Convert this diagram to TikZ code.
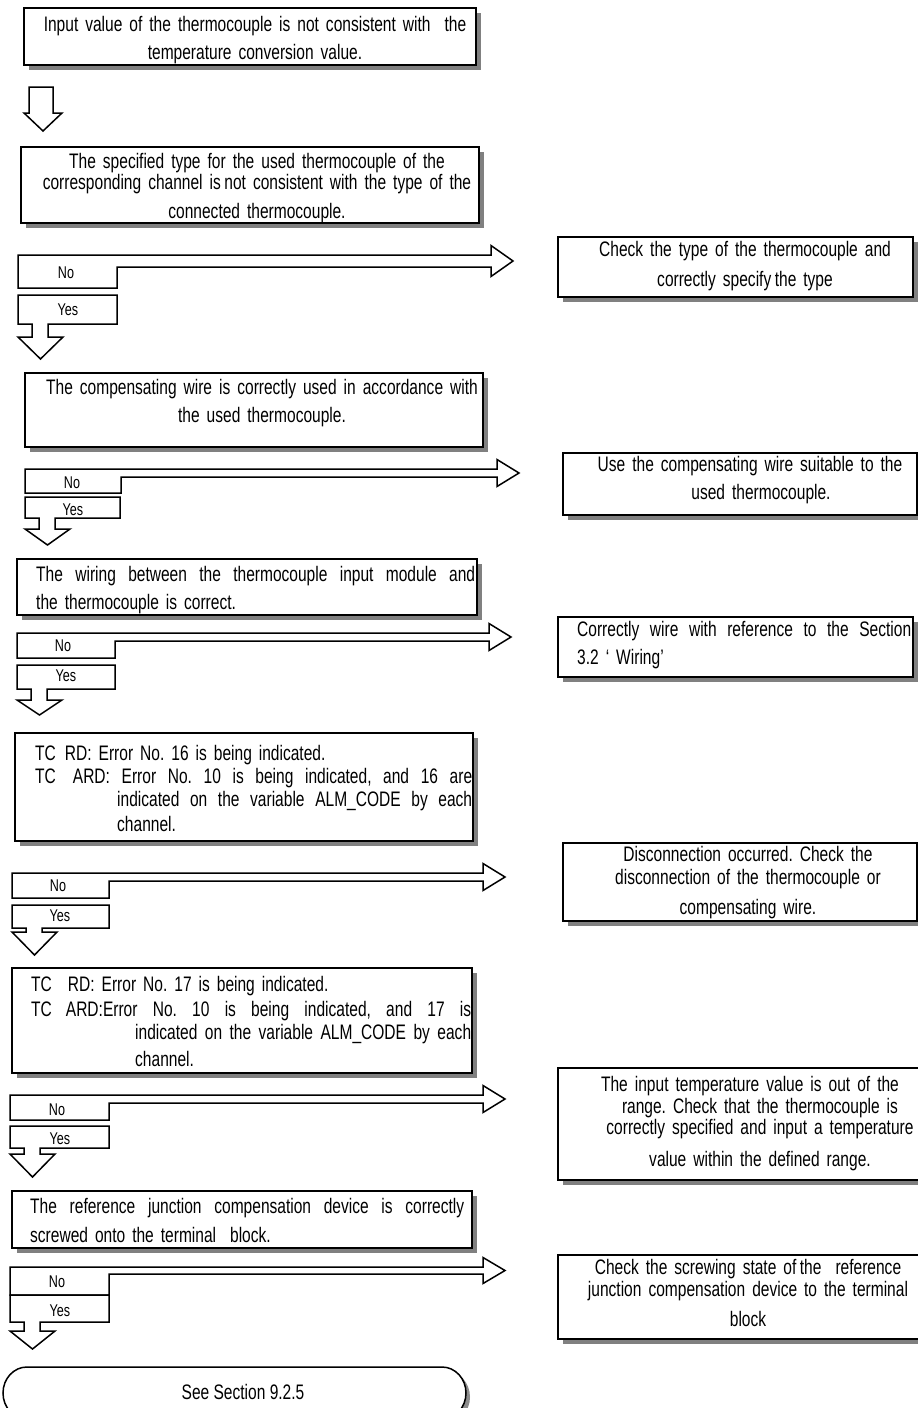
\documentclass[tikz,border=0pt]{standalone}
\usepackage{fontspec}
\setmainfont{Liberation Sans}[FakeStretch=0.74]
\usetikzlibrary{shadows}
\frenchspacing
\tikzset{
  box/.style={draw, line width=1.6pt, fill=white, inner sep=0pt,
    drop shadow={shadow xshift=5pt, shadow yshift=-5pt, fill=black!50, opacity=1}},
  txt/.style={inner sep=0pt, font=\fontsize{21}{22}\selectfont},
  lbl/.style={inner sep=0pt, font=\fontsize{17}{18}\selectfont},
  blockarrow/.style={draw, line width=1.5pt, fill=white, line join=miter},
}
% a line spread to a given width
\newcommand{\jline}[2]{\leavevmode\hbox to #1{\spaceskip=3.9pt plus 1fil\relax #2}}
% L T N B E s
\newcommand{\NoArrow}[6]{%
  \draw[blockarrow] (#1,#2) -- (#5,#2) -- (#5,#2-9.5) -- (#5+22,#2+#6/2)
    -- (#5,#2+#6+9.5) -- (#5,#2+#6) -- (#3,#2+#6) -- (#3,#4) -- (#1,#4) -- cycle;}
% L R Yt Yb Sb Ty
\newcommand{\YesArrow}[6]{%
  \draw[blockarrow] (#1,#3) -- (#2,#3) -- (#2,#4) -- (#1+30,#4) -- (#1+30,#5)
    -- (#1+45,#5) -- (#1+22.5,#6) -- (#1,#5) -- (#1+14,#5) -- (#1+14,#4) -- (#1,#4) -- cycle;}
\begin{document}
\spaceskip=3.9pt plus 1pt minus 0.5pt\relax
\begin{tikzpicture}[x=1pt, y=-1pt]
\useasboundingbox (0,0) rectangle (918,1408);
\clip (0,0) rectangle (918,1408);

% ---------- left column boxes ----------
\node[box, minimum width=452pt, minimum height=57pt] (b1) at (250,36.5) {};
\node[txt, text width=440pt, align=center, anchor=base] (t1) at (255,31)
  {Input value of the thermocouple is not consistent with\ \ the\\[6pt]temperature conversion value.};

\draw[blockarrow] (29,87) -- (53,87) -- (53,113) -- (62,113) -- (43,131) -- (24,113) -- (29,113) -- cycle;

\node[box, minimum width=458pt, minimum height=76pt] (b2) at (250,185) {};
\node[txt, text width=450pt, align=center, anchor=base] (t2) at (257,168)
  {The specified type for the used thermocouple of the\\[-1pt]corresponding channel is\,not consistent with the type of the\\[7pt]connected thermocouple.};

\node[box, minimum width=458pt, minimum height=74pt] (b3) at (254,410) {};
\node[txt, text width=450pt, align=center, anchor=base] (t3) at (262,394)
  {The compensating wire is correctly used in accordance with\\[6pt]the used thermocouple.};

\node[box, minimum width=460pt, minimum height=56pt] (b4) at (247,587) {};
\node[txt, text width=439pt, align=left, anchor=base west] (t4) at (36,581)
  {\jline{439pt}{The wiring between the thermocouple input module and}\\[6pt]the thermocouple is correct.};

\node[box, minimum width=458pt, minimum height=108pt] (b5) at (244,787) {};
\node[txt, text width=437pt, align=left, anchor=base west] (t5) at (35,760)
  {TC\hspace{9pt}RD: Error No. 16 is being indicated.\\[1pt]
   \jline{437pt}{TC\hspace{17pt}ARD: Error No. 10 is being indicated, and 16 are}\\[1pt]
   \hspace*{82pt}\jline{355pt}{indicated on the variable ALM\_CODE by each}\\[3pt]
   \hspace*{82pt}channel.};

\node[box, minimum width=460pt, minimum height=105pt] (b6) at (242,1020.5) {};
\node[txt, text width=440pt, align=left, anchor=base west] (t6) at (31,991)
  {TC\hspace{16pt}RD: Error No. 17 is being indicated.\\[3pt]
   \jline{440pt}{TC\hspace{14pt}ARD:Error No. 10 is being indicated, and 17 is}\\[1pt]
   \hspace*{104pt}\jline{336pt}{indicated on the variable ALM\_CODE by each}\\[5pt]
   \hspace*{104pt}channel.};

\node[box, minimum width=460pt, minimum height=57pt] (b7) at (242,1219.5) {};
\node[txt, text width=435pt, align=left, anchor=base west] (t7) at (30,1213)
  {\jline{434pt}{The reference junction compensation device is correctly}\\[7pt]screwed onto the terminal\ \ block.};

% ---------- right column boxes ----------
\node[box, minimum width=355pt, minimum height=60pt] (r1) at (735.5,267) {};
\node[txt, text width=345pt, align=center, anchor=base] (r1t) at (745,256)
  {Check the type of the thermocouple and\\[8pt]correctly specify\,the type};

\node[box, minimum width=354pt, minimum height=62pt] (r2) at (740,484) {};
\node[txt, text width=345pt, align=center, anchor=base] (r2t) at (750,471)
  {Use the compensating wire suitable to the\\[6pt]\hspace*{22pt}used thermocouple.};

\node[box, minimum width=355pt, minimum height=60pt] (r3) at (735.5,647) {};
\node[txt, text width=334pt, align=left, anchor=base west] (r3t) at (577,636)
  {\jline{334pt}{Correctly wire with reference to the Section}\\[6pt]3.2 ‘ Wiring’};

\node[box, minimum width=354pt, minimum height=78pt] (r4) at (740,882) {};
\node[txt, text width=345pt, align=center, anchor=base] (r4t) at (748,861)
  {Disconnection occurred. Check the\\[1pt]disconnection of the thermocouple or\\[8pt]compensating wire.};

\node[box, minimum width=366pt, minimum height=112pt] (r5) at (741,1124) {};
\node[txt, text width=350pt, align=center, anchor=base] (r5t) at (760,1091)
  {The input temperature value is out of the\hspace*{20pt}\mbox{}\\[0pt]range. Check that the thermocouple is\\[-1pt]correctly specified and input a temperature\\[10pt]value within the defined range.};

\node[box, minimum width=366pt, minimum height=84pt] (r6) at (741,1297) {};
\node[txt, text width=350pt, align=center, anchor=base] (r6t) at (748,1274)
  {Check the screwing state of\,the\ \ reference\\[0pt]junction compensation device to the terminal\\[8pt]block};

% ---------- No / Yes block arrows ----------
\NoArrow{18}{255}{117}{288}{491}{12}
\YesArrow{18}{117}{295}{324}{337}{359}
\node[lbl] (no1) at (66,273) {No};
\node[lbl] (yes1) at (68,310) {Yes};

\NoArrow{25}{469}{121}{493}{497}{8}
\YesArrow{25}{120}{497}{518}{529}{545}
\node[lbl] (no2) at (72,483) {No};
\node[lbl] (yes2) at (73,510) {Yes};

\NoArrow{17}{633}{115}{658}{489}{8}
\YesArrow{17}{115}{665}{689}{700}{715}
\node[lbl] (no3) at (63,646) {No};
\node[lbl] (yes3) at (66,676) {Yes};

\NoArrow{12}{873}{109}{898}{483}{8}
\YesArrow{12}{109}{905}{928}{932}{955}
\node[lbl] (no4) at (58,886) {No};
\node[lbl] (yes4) at (60,916) {Yes};

\NoArrow{10}{1095}{109}{1120}{483}{8}
\YesArrow{10}{109}{1126}{1148}{1154}{1177}
\node[lbl] (no5) at (57,1110) {No};
\node[lbl] (yes5) at (60,1139) {Yes};

\NoArrow{10}{1267}{109}{1295}{483}{7}
\YesArrow{10}{109}{1295}{1322}{1331}{1349}
\node[lbl] (no6) at (57,1282) {No};
\node[lbl] (yes6) at (60,1311) {Yes};

% ---------- terminal ----------
\fill[black!45] (31,1371) -- (446,1371) arc[start angle=-90, end angle=90, x radius=24, y radius=26] -- (31,1423) -- cycle;
\draw[line width=1.5pt, fill=white] (27,1367) -- (442,1367)
  arc[start angle=-90, end angle=90, x radius=24, y radius=26] -- (27,1419)
  arc[start angle=90, end angle=270, x radius=24, y radius=26] -- cycle;
\node[txt, anchor=base] (endt) at (243,1399) {See Section 9.2.5};
\end{tikzpicture}
\end{document}
